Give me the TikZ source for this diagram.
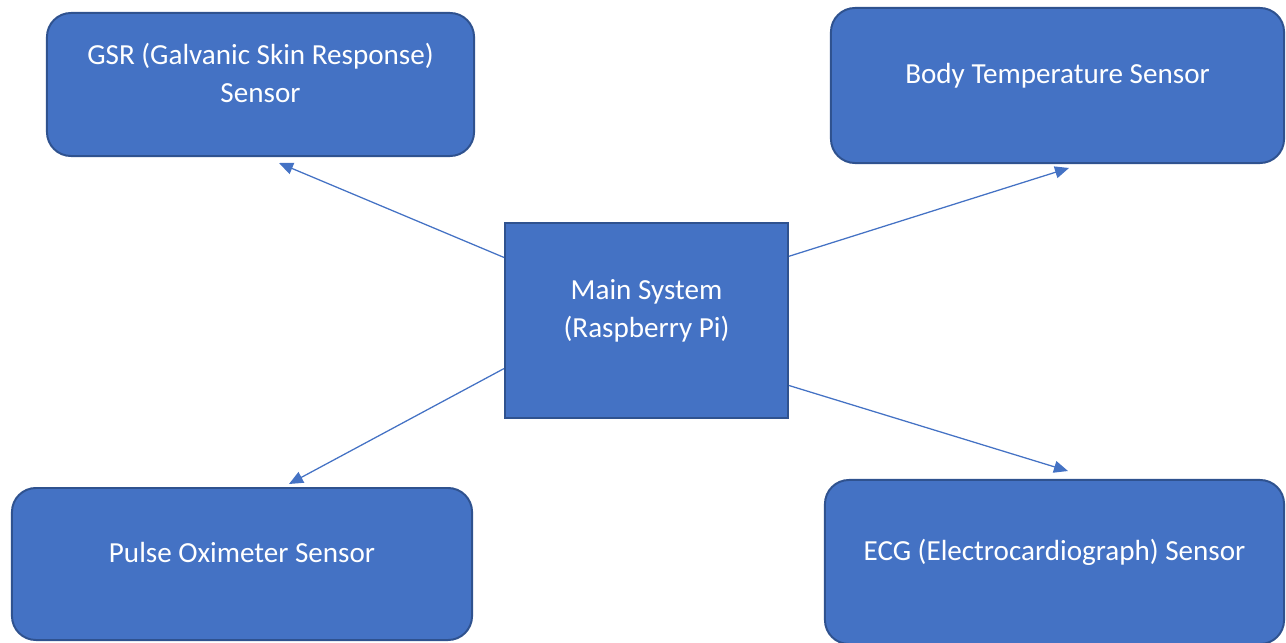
\documentclass[tikz,border=0pt]{standalone}
\usepackage{fontspec}
\setmainfont{Carlito}
\usetikzlibrary{arrows.meta,calc}
\definecolor{boxblue}{HTML}{4472C4}
\definecolor{edgeblue}{HTML}{2F528F}

\begin{document}
\begin{tikzpicture}[x=0.025cm,y=-0.025cm,
    sensorbox/.style={draw=edgeblue,line width=1.4pt,fill=boxblue,rounded corners=0.6cm,
        text=white,align=center,inner sep=0pt,text depth=17pt,font=\fontsize{20.7}{27}\selectfont},
    mainbox/.style={sensorbox,sharp corners},
    link/.style={draw=boxblue,line width=0.9pt,-{Triangle[length=10pt,width=8.5pt]}}]
    \useasboundingbox (0,0) rectangle (1286,643);

    \node[mainbox,minimum width=7.075cm,minimum height=4.875cm] (main) at (646.5,320.5) {Main System\\(Raspberry Pi)};

    \node[sensorbox,minimum width=10.675cm,minimum height=3.575cm] (gsr) at (260.5,84.5) {GSR (Galvanic Skin Response)\\Sensor};
    \node[sensorbox,minimum width=11.325cm,minimum height=3.875cm] (temp) at (1057.5,85.5) {Body Temperature Sensor};
    \node[sensorbox,minimum width=11.5cm,minimum height=3.8cm] (pulse) at (242,564) {Pulse Oximeter Sensor};
    \node[sensorbox,minimum width=11.475cm,minimum height=4.1cm] (ecg) at (1054.5,562) {ECG (Electrocardiograph) Sensor};

    % free ends of the links, just short of each sensor box
    \coordinate (gsrend) at (279,163);
    \coordinate (tempend) at (1069,168);
    \coordinate (pulseend) at (289,484);
    \coordinate (ecgend) at (1068,471);

    \draw[link] ($(main.north west)!0.18!(main.south west)$) -- (gsrend);
    \draw[link] ($(main.north east)!0.174!(main.south east)$) -- (tempend);
    \draw[link] ($(main.north west)!0.744!(main.south west)$) -- (pulseend);
    \draw[link] ($(main.north east)!0.83!(main.south east)$) -- (ecgend);
\end{tikzpicture}
\end{document}
